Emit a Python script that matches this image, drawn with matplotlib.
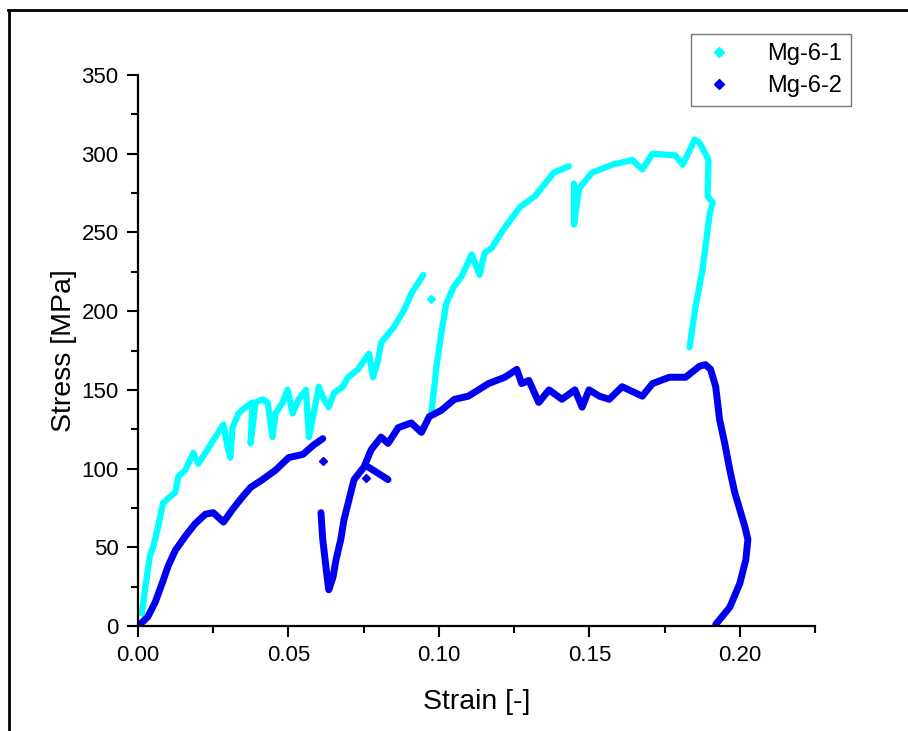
import matplotlib.pyplot as plt
from matplotlib.lines import Line2D
from matplotlib.ticker import MultipleLocator

# Mg-6-1 (cyan), split where the record has gaps
mg61_a_strain = [0.0013, 0.0023, 0.0033, 0.0040, 0.0050, 0.0067, 0.0083, 0.0100, 0.0124, 0.0134,
                 0.0157, 0.0184, 0.0200, 0.0224, 0.0257, 0.0284, 0.0297, 0.0307, 0.0314, 0.0334,
                 0.0357, 0.0381, 0.0374, 0.0391, 0.0414, 0.0431, 0.0447, 0.0457, 0.0481, 0.0497,
                 0.0514, 0.0534, 0.0558, 0.0568, 0.0584, 0.0601, 0.0618, 0.0634, 0.0651, 0.0681,
                 0.0698, 0.0731, 0.0768, 0.0781, 0.0798, 0.0808, 0.0851, 0.0885, 0.0908, 0.0948]
mg61_a_stress = [8, 23, 36, 45, 50, 63, 78, 81, 85, 95,
                 99, 110, 103, 110, 120, 128, 114, 107, 126, 135,
                 139, 142, 116, 142, 144, 142, 120, 135, 142, 150,
                 135, 144, 150, 120, 135, 152, 144, 139, 148, 152,
                 158, 163, 173, 158, 169, 180, 190, 201, 211, 223]
mg61_b_strain = [0.0975, 0.0992, 0.1008, 0.1025, 0.1048, 0.1075, 0.1109, 0.1135, 0.1152, 0.1175,
                 0.1215, 0.1269, 0.1319, 0.1382, 0.1432]
mg61_b_stress = [135, 165, 186, 205, 215, 222, 236, 223, 237, 240,
                 252, 266, 273, 288, 292]
mg61_c_strain = [0.1449, 0.1449, 0.1466, 0.1509, 0.1576, 0.1643, 0.1676, 0.1710, 0.1786, 0.1810,
                 0.1833, 0.1850, 0.1866, 0.1886, 0.1896, 0.1893, 0.1910, 0.1900, 0.1876, 0.1853,
                 0.1833]
mg61_c_stress = [281, 255, 278, 288, 293, 296, 290, 300, 299, 293,
                 302, 309, 307, 300, 296, 273, 269, 262, 226, 203,
                 177]
mg61_dot_strain = [0.0975]
mg61_dot_stress = [208]

# Mg-6-2 (blue)
mg62_a_strain = [0.0007, 0.0033, 0.0057, 0.0080, 0.0100, 0.0124, 0.0157, 0.0190, 0.0224, 0.0250,
                 0.0284, 0.0314, 0.0347, 0.0374, 0.0414, 0.0457, 0.0501, 0.0548, 0.0584, 0.0614]
mg62_a_stress = [1, 6, 15, 27, 38, 48, 57, 65, 71, 72,
                 66, 74, 82, 88, 93, 99, 107, 109, 115, 119]
mg62_b_strain = [0.0608, 0.0614, 0.0628, 0.0634, 0.0648, 0.0658, 0.0674, 0.0684, 0.0701, 0.0718,
                 0.0751, 0.0775, 0.0808, 0.0831, 0.0865, 0.0908, 0.0942, 0.0968, 0.1008, 0.1052,
                 0.1098, 0.1165, 0.1219, 0.1259, 0.1275, 0.1299, 0.1332, 0.1366, 0.1409, 0.1452,
                 0.1476, 0.1499, 0.1533, 0.1566, 0.1609, 0.1676, 0.1710, 0.1766, 0.1820, 0.1866,
                 0.1886, 0.1903, 0.1920, 0.1933, 0.1950, 0.1967, 0.1983, 0.2017, 0.2027, 0.2020,
                 0.2000, 0.1967, 0.1920]
mg62_b_stress = [72, 55, 32, 23, 31, 42, 55, 67, 80, 93,
                 101, 112, 120, 116, 126, 129, 123, 133, 137, 144,
                 146, 154, 158, 163, 154, 156, 142, 150, 144, 150,
                 139, 150, 146, 144, 152, 146, 154, 158, 158, 165,
                 166, 163, 152, 131, 116, 99, 85, 63, 55, 42,
                 27, 12, 1]
mg62_k_strain = [0.0765, 0.0831]
mg62_k_stress = [101, 93]
mg62_dot_strain = [0.0614, 0.0758]
mg62_dot_stress = [105, 94]

cyan = '#00FFFF'
blue = '#0000F0'

plt.rcParams['font.family'] = ['Liberation Sans', 'DejaVu Sans']

fig = plt.figure(figsize=(9.08, 7.31), dpi=100)
ax = fig.add_axes([138 / 908, 1 - 626 / 731, (815 - 138) / 908, (626 - 75) / 731])

for xs, ys in [(mg61_a_strain, mg61_a_stress), (mg61_b_strain, mg61_b_stress),
               (mg61_c_strain, mg61_c_stress)]:
    ax.plot(xs, ys, color=cyan, lw=4.5, solid_capstyle='round', solid_joinstyle='round')
ax.plot(mg61_dot_strain, mg61_dot_stress, 'D', color=cyan, ms=4, ls='none')

for xs, ys in [(mg62_a_strain, mg62_a_stress), (mg62_b_strain, mg62_b_stress),
               (mg62_k_strain, mg62_k_stress)]:
    ax.plot(xs, ys, color=blue, lw=5, solid_capstyle='round', solid_joinstyle='round')
ax.plot(mg62_dot_strain, mg62_dot_stress, 'D', color=blue, ms=4, ls='none')

ax.set_xlim(0, 0.225)
ax.set_ylim(0, 350)
ax.xaxis.set_major_locator(MultipleLocator(0.05))
ax.xaxis.set_minor_locator(MultipleLocator(0.025))
ax.yaxis.set_major_locator(MultipleLocator(50))
ax.yaxis.set_minor_locator(MultipleLocator(25))
ax.xaxis.set_major_formatter(plt.FuncFormatter(lambda v, p: f"{v:.2f}"))

ax.spines['top'].set_visible(False)
ax.spines['right'].set_visible(False)
for s in ['left', 'bottom']:
    ax.spines[s].set_linewidth(1.6)
ax.tick_params(which='major', direction='out', length=8, width=1.5, labelsize=16, pad=6)
ax.tick_params(which='minor', direction='out', length=5, width=1.5)

ax.set_xlabel('Strain [-]', fontsize=20.5, labelpad=16)
ax.set_ylabel('Stress [MPa]', fontsize=20.5, labelpad=3)

handles = [Line2D([], [], marker='D', color=cyan, ls='none', ms=5),
           Line2D([], [], marker='D', color=blue, ls='none', ms=5)]
leg = fig.legend(handles, ['Mg-6-1', 'Mg-6-2'], loc='upper right',
                 bbox_to_anchor=(851 / 908, 1 - 34 / 731), borderaxespad=0, fontsize=17,
                 frameon=True, fancybox=False, edgecolor='#555555',
                 handlelength=1.6, handletextpad=1.2, borderpad=0.4, labelspacing=0.4)
leg.get_frame().set_linewidth(1.0)

# outer frame lines (top and left)
fig.add_artist(Line2D([8 / 908, 1], [1 - 10 / 731, 1 - 10 / 731], color='black', lw=2,
                      transform=fig.transFigure))
fig.add_artist(Line2D([9 / 908, 9 / 908], [0, 1 - 10 / 731], color='black', lw=2,
                      transform=fig.transFigure))

fig.savefig('out.png', dpi=100)
